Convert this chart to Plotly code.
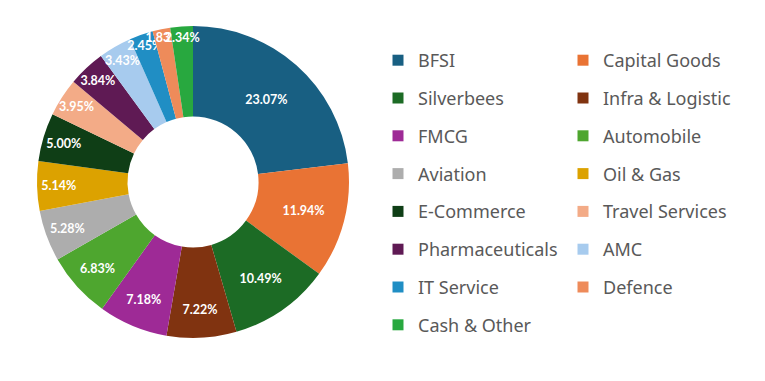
import plotly.graph_objects as go

sectors = ["BFSI", "Capital Goods", "Silverbees", "Infra & Logistic", "FMCG",
           "Automobile", "Aviation", "Oil & Gas", "E-Commerce", "Travel Services",
           "Pharmaceuticals", "AMC", "IT Service", "Defence", "Cash & Other"]
weights = [23.07, 11.94, 10.49, 7.22, 7.18, 6.83, 5.28, 5.14, 5.00, 3.95,
           3.84, 3.43, 2.45, 1.83, 2.34]
colors = ["#185f82", "#e97334", "#1c6b25", "#803310", "#9e2a96",
          "#4ea62f", "#adadad", "#dca200", "#0f3e16", "#f3ab87",
          "#5f1a54", "#a7cbee", "#208ec4", "#ee8b5a", "#28a83f"]

W, H = 765, 381
OFF = 8  # page body margin
cx, cy, R = 193 - OFF, 182 - OFF, 156

fig = go.Figure()
fig.add_trace(go.Pie(
    labels=sectors, values=weights, sort=False, direction="clockwise",
    hole=0.42,
    marker=dict(colors=colors, line=dict(width=0)),
    text=[f"{v:.2f}%" for v in weights],
    texttemplate="%{text}", textinfo="text",
    textposition="inside", insidetextorientation="horizontal",
    textfont=dict(family="Lato", size=12.5, color="white", weight="bold"),
    domain=dict(x=[(cx - R) / W, (cx + R) / W], y=[(H - cy - R) / H, (H - cy + R) / H]),
    showlegend=False, hoverinfo="label+percent",
))

for i, (name, col) in enumerate(zip(sectors, colors)):
    fig.add_trace(go.Scatter(
        x=[None], y=[None], mode="markers", name=name,
        marker=dict(symbol="square", size=11, color=col),
        legend="legend" if i % 2 == 0 else "legend2",
        legendgroup=f"g{i}", showlegend=True,
    ))

leg_common = dict(
    orientation="v", traceorder="grouped", tracegroupgap=11.4,
    font=dict(family="Noto Sans", size=18, color="#595959"),
    bgcolor="rgba(0,0,0,0)", borderwidth=0,
    xanchor="left", yanchor="top", itemclick=False, itemdoubleclick=False,
)
fig.update_layout(
    width=W, height=H, margin=dict(l=0, r=0, t=0, b=0),
    paper_bgcolor="white", plot_bgcolor="white",
    xaxis=dict(visible=False), yaxis=dict(visible=False),
    uniformtext=dict(minsize=12.5, mode="show"),
    legend=dict(x=370 / W, y=1 - 34 / H, **leg_common),
    legend2=dict(x=555 / W, y=1 - 34 / H, **leg_common),
)

fig.write_html("out.html")
